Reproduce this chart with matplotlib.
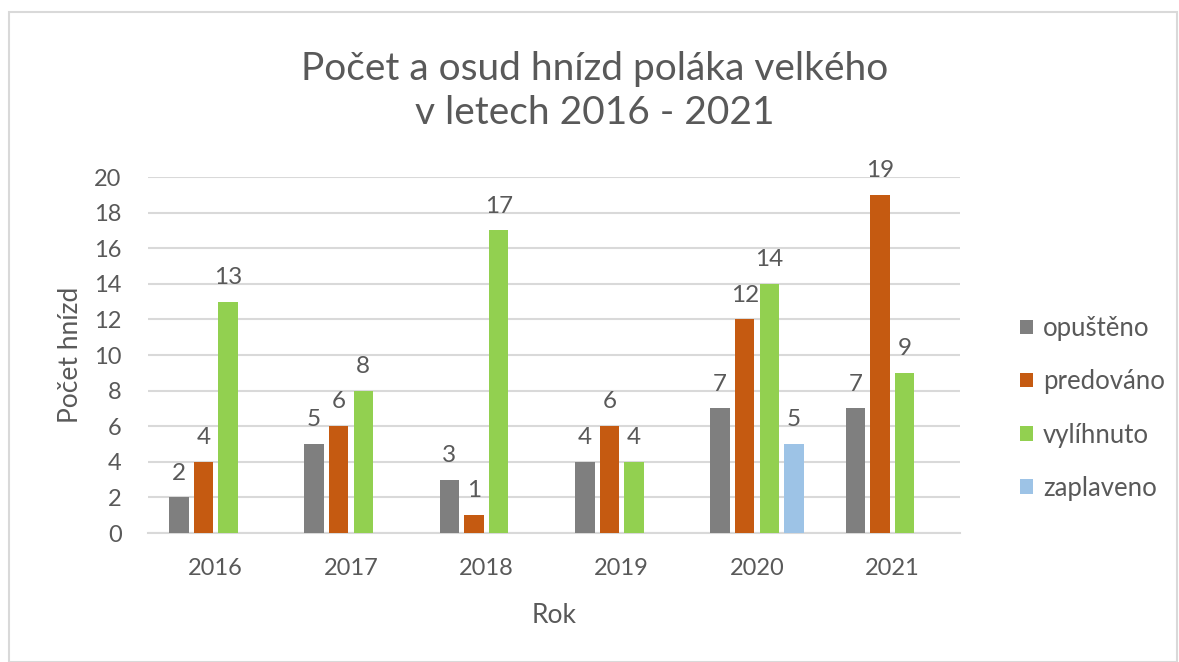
import numpy as np
import matplotlib
matplotlib.use("Agg")
from matplotlib import pyplot as plt
from matplotlib.patches import Rectangle

plt.rcParams['font.family'] = ['Lato', 'DejaVu Sans']

years = ['2016', '2017', '2018', '2019', '2020', '2021']
series = ['opuštěno', 'predováno', 'vylíhnuto', 'zaplaveno']
opusteno = [2, 5, 3, 4, 7, 7]
predovano = [4, 6, 1, 6, 12, 19]
vylihnuto = [13, 8, 17, 4, 14, 9]
zaplaveno = [None, None, None, None, 5, None]
colors = ['#7f7f7f', '#c55a11', '#92d050', '#9dc3e6']
text_col = '#595959'
grid_col = '#d9d9d9'

fig = plt.figure(figsize=(11.79, 6.62), dpi=100)
fig.patches.append(Rectangle((9 / 1179, 0), 1168 / 1179, 1 - 12 / 662,
                             transform=fig.transFigure, fill=False,
                             edgecolor='#d9d9d9', linewidth=1.5))
ax = fig.add_axes([148 / 1179, 1 - 533 / 662, 812 / 1179, 356 / 662])

x = np.arange(len(years))
pitch = 0.182
width = 0.145
for i, (name, vals) in enumerate(zip(series, [opusteno, predovano, vylihnuto, zaplaveno])):
    xs = [xx + (i - 1.5) * pitch for xx, v in zip(x, vals) if v is not None]
    vs = [v for v in vals if v is not None]
    bars = ax.bar(xs, vs, width=width, color=colors[i], label=name, zorder=3)
    ax.bar_label(bars, padding=10, fontsize=17.5, color=text_col)

ax.set_xlim(-0.5, len(years) - 0.5)
ax.set_ylim(0, 20)
ax.set_yticks(range(0, 21, 2))
ax.set_xticks(x, years)
ax.grid(axis='y', color=grid_col, linewidth=1.5, zorder=0)
for s in ['top', 'right', 'left']:
    ax.spines[s].set_visible(False)
ax.spines['bottom'].set_color(grid_col)
ax.spines['bottom'].set_linewidth(1.5)
ax.tick_params(length=0, labelsize=17, colors=text_col)
ax.tick_params(axis='x', pad=18)
ax.tick_params(axis='y', pad=19)
ax.set_xlabel('Rok', fontsize=19, color=text_col, labelpad=17)
ax.set_ylabel('Počet hnízd', fontsize=19, color=text_col, labelpad=8)

fig.text(595 / 1179, 1 - 91 / 662, 'Počet a osud hnízd poláka velkého\nv letech 2016 - 2021',
         ha='center', va='center', fontsize=28, color=text_col, linespacing=1.3)

leg = ax.legend(loc='center left', bbox_to_anchor=(1.045, 0.35), frameon=False,
                fontsize=18.5, labelcolor=text_col, handlelength=0.5, handleheight=0.5,
                handletextpad=0.4, labelspacing=1.1)

fig.savefig('out.png', dpi=100)
